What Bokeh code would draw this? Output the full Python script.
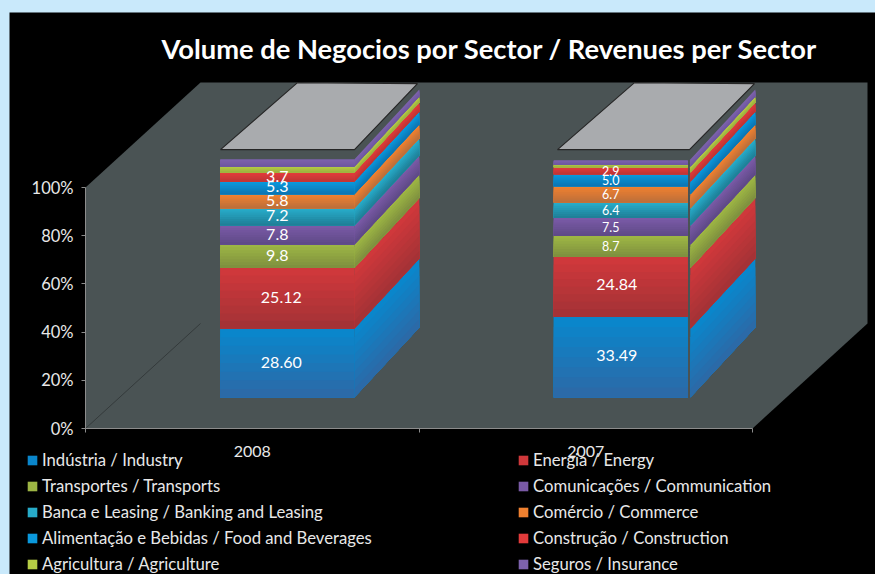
from bokeh.plotting import figure
from bokeh.models import (Range1d, FixedTicker, PrintfTickFormatter, Legend, LegendItem, Label)
from bokeh.core.properties import value
from bokeh.embed import file_html
from bokeh.resources import INLINE

title = "Volume de Negocios por Sector / Revenues per Sector"
years = ["2008", "2007"]
series = ["Indústria / Industry", "Energia / Energy", "Transportes / Transports",
          "Comunicações / Communication", "Banca e Leasing / Banking and Leasing",
          "Comércio / Commerce", "Alimentação e Bebidas / Food and Beverages",
          "Construção / Construction", "Agricultura / Agriculture", "Seguros / Insurance"]
values_2008 = [28.60, 25.12, 9.8, 7.8, 7.2, 5.8, 5.3, 3.7, 2.5, 2.9]
values_2007 = [33.49, 24.84, 8.7, 7.5, 6.4, 6.7, 5.0, 2.9, 1.2, 1.6]
labels_2008 = ["28.60", "25.12", "9.8", "7.8", "7.2", "5.8", "5.3", "3.7", "", ""]
labels_2007 = ["33.49", "24.84", "8.7", "7.5", "6.4", "6.7", "5.0", "2.9", "", ""]
y_ticks = [0, 20, 40, 60, 80, 100]

top_colors = ["#0a86cb", "#cf383b", "#9db544", "#7a5aa6", "#27abc9",
              "#f08130", "#0a98dc", "#e23b3b", "#b5cd45", "#7d62ad"]
bot_colors = ["#2b6aa8", "#a53236", "#7f913f", "#5f4a88", "#1f8098",
              "#bd6f3a", "#0c76b4", "#bf3535", "#9db040", "#6f58a0"]

BG_PAGE, BG_BLACK, WALL = "#c9e9fb", "#000000", "#4a5354"
PX_X, PX_Y = 333.5, 2.41            # pixels per data unit
px_x = lambda px: px / PX_X
px_y = lambda px: px / PX_Y
DEPTH_X, DEPTH_Y = px_x(115), px_y(105)
BAR_OFF, BAR_W, BAR_LIFT = 0.404, 0.402, px_y(31)
SIDE_X, SIDE_Y = px_x(65), px_y(70)
SIDE_GAP = [0, px_x(2.5)]
LID_X = [[px_x(135), px_x(269), px_x(332), px_x(212)],
         [px_x(472), px_x(604), px_x(669), px_x(549)]]
LID_GAP, LID_BACK = px_y(10), [px_y(0), px_y(66), px_y(67)]
NSLICE = 8
FONT = "Lato"
# label nudges in pixels: (big x, big y, small x, small y) per bar
LABEL_NUDGE = [(-6, -1, -10, -1), (-4, -2, -10, 0)]


def mix(a, b, t):
    ca = [int(a[i:i + 2], 16) for i in (1, 3, 5)]
    cb = [int(b[i:i + 2], 16) for i in (1, 3, 5)]
    return "#%02x%02x%02x" % tuple(round(x + (y - x) * t) for x, y in zip(ca, cb))


W, H = 866, 562
p = figure(width=W, height=H, margin=(12, 0, 0, 9), output_backend="svg", toolbar_location=None,
           x_range=Range1d(-px_x(76), px_x(W - 76)), y_range=Range1d(-px_y(146), px_y(H - 146)),
           min_border=0, background_fill_color=BG_BLACK, border_fill_color=BG_BLACK,
           outline_line_color=None)
p.grid.visible = False

# Walls / floor of the 3-D box
p.patch([0, 0, DEPTH_X, 2 + DEPTH_X, 2 + DEPTH_X, 2], [0, 100, 100 + DEPTH_Y, 100 + DEPTH_Y, DEPTH_Y, 0],
        fill_color=WALL, line_color=None)
p.line([0, DEPTH_X], [0, DEPTH_Y], line_color="#343a3b", line_width=1)

legend_items = []
for b, vals in enumerate([values_2008, values_2007]):
    xl = b + BAR_OFF
    xr = xl + BAR_W
    # side faces (the reference repeats the 2008 stripes on both bars)
    sx0 = xr + SIDE_GAP[b]
    base = BAR_LIFT
    for i, v in enumerate(values_2008):
        xs, ys, cs = [], [], []
        for k in range(NSLICE):
            top = base + v * (1 - k / NSLICE)
            xs.append([sx0, sx0 + SIDE_X, sx0 + SIDE_X, sx0])
            ys.append([base, base + SIDE_Y, top + SIDE_Y, top])
            cs.append(mix(top_colors[i], bot_colors[i], k / (NSLICE - 1)))
        p.patches(xs, ys, fill_color=cs, line_color=None)
        base += v
    # lid
    lid_y0 = BAR_LIFT + sum(values_2008) + LID_GAP
    p.patch(LID_X[b], [lid_y0, lid_y0, lid_y0 + LID_BACK[1], lid_y0 + LID_BACK[2]],
            fill_color="#a9abae", line_color="#262626", line_width=1.2)
    # front faces
    base = BAR_LIFT
    for i, v in enumerate(vals):
        r = p.quad(left=[xl], right=[xr], bottom=[base], top=[base + v],
                   fill_color=top_colors[i], line_color=None)
        if b == 0:
            legend_items.append(LegendItem(label=series[i], renderers=[r]))
        cs = [mix(top_colors[i], bot_colors[i], k / (NSLICE - 1)) for k in range(NSLICE)]
        tops = [base + v * (1 - k / NSLICE) for k in range(NSLICE)]
        p.quad(left=[xl] * NSLICE, right=[xr] * NSLICE, bottom=[base] * NSLICE, top=tops,
               fill_color=cs, line_color=None)
        base += v

# Data labels
LABEL_BIG, LABEL_SMALL = "16px", "12.5px"
for b, (vals, labs) in enumerate([(values_2008, labels_2008), (values_2007, labels_2007)]):
    base = BAR_LIFT
    xc = b + BAR_OFF + BAR_W / 2
    bx, by, sx, sy = LABEL_NUDGE[b]
    for v, lab in zip(vals, labs):
        if lab:
            big = v > 20
            size = LABEL_BIG if (b == 0 or big) else LABEL_SMALL
            p.text([xc], [base + v / 2], text=[lab], text_color="#ffffff", text_font=value(FONT),
                   text_font_size=size, text_align="center", text_baseline="middle",
                   x_offset=bx if big else sx, y_offset=by if big else sy)
        base += v

# Axes drawn at fixed positions inside the full-canvas frame
ax = p.xaxis[0]
ax.fixed_location = 0
ax.bounds = (0, 2)
ax.ticker = FixedTicker(ticks=[0.5, 1.5], minor_ticks=[0, 1, 2])
ax.major_label_overrides = {0.5: years[0], 1.5: years[1]}
ax.major_tick_line_color = None
ax.minor_tick_out, ax.minor_tick_in = 4, 0
ax.minor_tick_line_color = "#8c8c8c"
ax.axis_line_color = "#8c8c8c"
ax.major_label_text_color = "#e8e8e8"
ax.major_label_text_font = FONT
ax.major_label_text_font_size = "16px"
ax.major_label_standoff = 11

ay = p.yaxis[0]
ay.fixed_location = 0
ay.bounds = (0, 100)
ay.ticker = FixedTicker(ticks=y_ticks)
ay.formatter = PrintfTickFormatter(format="%d%%")
ay.minor_tick_line_color = None
ay.major_tick_out, ay.major_tick_in = 4, 0
ay.major_tick_line_color = "#8c8c8c"
ay.axis_line_color = "#8c8c8c"
ay.major_label_text_color = "#e8e8e8"
ay.major_label_text_font = FONT
ay.major_label_text_font_size = "16.5px"
ay.major_label_standoff = 8

# Title
p.add_layout(Label(x=px_x(76), y=px_y(380), text=title, text_color="#ffffff", text_font=FONT,
                   text_font_style="bold", text_font_size="27.3px", text_align="left",
                   text_baseline="middle"))

# Legends: two columns
for col, xpos in ((0, 17), (1, 508)):
    leg = Legend(items=legend_items[col::2], location=(xpos, 0), orientation="vertical",
                 background_fill_alpha=0, border_line_color=None, padding=0, margin=0,
                 glyph_width=12, glyph_height=12, label_height=20, label_standoff=4, spacing=6,
                 label_text_color="#e8e8e8", label_text_font=FONT, label_text_font_size="16.7px")
    p.add_layout(leg, "center")

css = ("<style>html,body{margin:0 !important;padding:0;overflow:hidden;background:%s !important}</style>"
       % BG_PAGE)
html = file_html(p, INLINE).replace("</head>", css + "</head>", 1)
open("out.html", "w").write(html)
